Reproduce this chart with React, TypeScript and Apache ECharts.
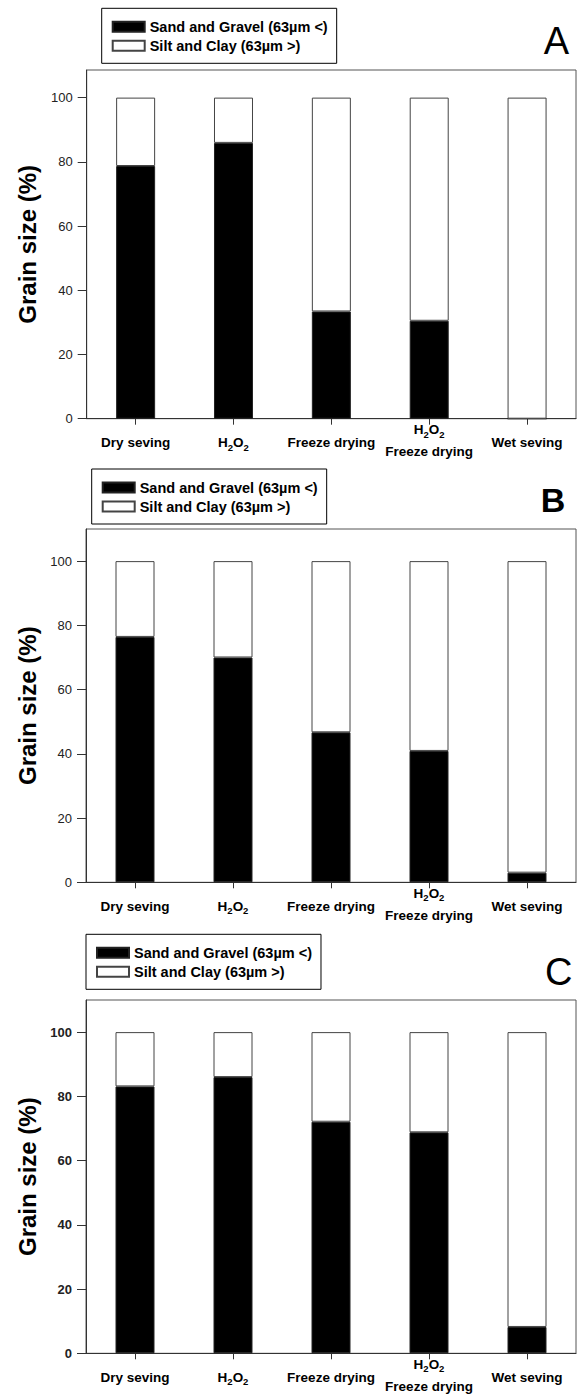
import React, { useEffect, useRef } from 'react';
import * as echarts from 'echarts';

// ---- data ----
const categories = ['Dry seving', 'H2O2', 'Freeze drying', 'H2O2\nFreeze drying', 'Wet seving'];
const seriesNames = ['Sand and Gravel (63µm <)', 'Silt and Clay (63µm >)'];
const sandA = [78.7, 85.9, 33.4, 30.5, 0];
const siltA = [21.3, 14.1, 66.6, 69.5, 100];
const sandB = [76.4, 70.0, 46.7, 40.9, 3.0];
const siltB = [23.6, 30.0, 53.3, 59.1, 97.0];
const sandC = [83.1, 86.0, 72.1, 68.8, 8.2];
const siltC = [16.9, 14.0, 27.9, 31.2, 91.8];
const yTicks = [0, 20, 40, 60, 80, 100];
const yMaxes = [108.6, 110, 110];
const panelLetters = ['A', 'B', 'C'];
const yAxisTitle = 'Grain size (%)';

const sandSets = [sandA, sandB, sandC];
const siltSets = [siltA, siltB, siltC];

// ---- layout ----
const W = 581;
const H = 1394;
const gridRight = 576;
const layouts = [
  { left: 86.7, top: 70, bottom: 418.7, legendLeft: 101.7, legendTop: 8.3, letterX: 556.4, letterY: 40.5, letterWeight: 'normal', letterSize: 38, tickBold: false },
  { left: 86, top: 529, bottom: 882.3, legendLeft: 91.7, legendTop: 469, letterX: 553, letterY: 500, letterWeight: 'bold', letterSize: 34, tickBold: false },
  { left: 86, top: 1000, bottom: 1353.3, legendLeft: 86, legendTop: 934.3, letterX: 558.8, letterY: 971.5, letterWeight: 'normal', letterSize: 38, tickBold: true },
];

const SANS = '"Liberation Sans", Arial, sans-serif';

function fmtLine(line: string, main: string, sub: string): string {
  if (!/\d/.test(line)) return `{${main}|${line}}`;
  return line
    .split(/(\d+)/)
    .filter((p) => p.length > 0)
    .map((p) => (/^\d+$/.test(p) ? `{${sub}|${p}}` : `{${main}|${p}}`))
    .join('');
}

function catFormatter(v: string): string {
  const lines = v.split('\n');
  if (lines.length === 1) return fmtLine(lines[0], 's', 'ss');
  return fmtLine(lines[0], 'a', 'as') + '\n' + fmtLine(lines[1], 'b', 'bs');
}

const baseCat = { fontFamily: SANS, fontWeight: 'bold', fontSize: 13.5, color: '#000' };
const subCat = { fontFamily: SANS, fontWeight: 'bold', fontSize: 9.5, color: '#000' };
const richCat = {
  s: { ...baseCat, lineHeight: 48 },
  ss: { ...subCat, lineHeight: 48, padding: [9, 0, 0, 0] },
  a: { ...baseCat, lineHeight: 22 },
  as: { ...subCat, lineHeight: 22, padding: [9, 0, 0, 0] },
  b: { ...baseCat, lineHeight: 22 },
  bs: { ...subCat, lineHeight: 22, padding: [9, 0, 0, 0] },
};

function buildOption() {
  const grid = layouts.map((l) => ({
    left: l.left,
    top: l.top,
    width: gridRight - l.left,
    height: l.bottom - l.top,
    show: true,
    borderColor: '#555',
    borderWidth: 1,
    backgroundColor: 'transparent',
    outerBoundsMode: 'none',
  }));

  const xAxis = layouts.map((_, i) => ({
    type: 'category',
    gridIndex: i,
    data: categories,
    boundaryGap: true,
    axisLine: { show: true, lineStyle: { color: '#333', width: 1 } },
    axisTick: { show: true, alignWithLabel: true, length: 6, lineStyle: { color: '#333' } },
    axisLabel: {
      interval: 0,
      margin: 0,
      formatter: catFormatter,
      rich: richCat,
      ...baseCat,
    },
    splitLine: { show: false },
  }));

  const yAxis = layouts.map((l, i) => ({
    type: 'value',
    gridIndex: i,
    min: 0,
    max: yMaxes[i],
    interval: 20,
    axisLine: { show: true, lineStyle: { color: '#333', width: 1 } },
    axisTick: { show: true, length: 9, customValues: yTicks, lineStyle: { color: '#333' } },
    axisLabel: {
      customValues: yTicks,
      margin: 14,
      fontSize: 13,
      fontFamily: SANS,
      fontWeight: l.tickBold ? 'bold' : 'normal',
      color: '#222',
    },
    splitLine: { show: false },
    name: yAxisTitle,
    nameLocation: 'middle',
    nameGap: 47,
    nameTextStyle: { fontSize: 24, fontWeight: 'bold', color: '#000', fontFamily: SANS },
  }));

  const series: any[] = [];
  layouts.forEach((_, i) => {
    series.push({
      type: 'bar',
      name: seriesNames[0],
      xAxisIndex: i,
      yAxisIndex: i,
      stack: 'stack' + i,
      data: sandSets[i],
      barWidth: 39,
      itemStyle: { color: '#000', borderColor: '#222', borderWidth: 1 },
    });
    series.push({
      type: 'bar',
      name: seriesNames[1],
      xAxisIndex: i,
      yAxisIndex: i,
      stack: 'stack' + i,
      data: siltSets[i],
      barWidth: 39,
      itemStyle: { color: '#fff', borderColor: '#444', borderWidth: 1 },
    });
  });

  const legend = layouts.map((l) => ({
    left: l.legendLeft,
    top: l.legendTop,
    orient: 'vertical',
    data: seriesNames,
    icon: 'rect',
    itemWidth: 32,
    itemHeight: 10,
    itemGap: 4,
    padding: [11, 9, 10, 10],
    borderColor: '#000',
    borderWidth: 1,
    selectedMode: false,
    textStyle: { fontFamily: SANS, fontWeight: 'bold', fontSize: 14.5, color: '#000' },
  }));

  const graphic = layouts.map((l, i) => ({
    type: 'text',
    x: l.letterX,
    y: l.letterY,
    style: {
      text: panelLetters[i],
      font: `${l.letterWeight} ${l.letterSize}px ${SANS}`,
      align: 'center',
      verticalAlign: 'middle',
      fill: '#000',
    },
  }));

  return {
    animation: false,
    backgroundColor: '#fff',
    grid,
    xAxis,
    yAxis,
    series,
    legend,
    graphic,
  };
}

export default function App() {
  const ref = useRef<HTMLDivElement | null>(null);
  useEffect(() => {
    document.body.style.margin = '0';
    if (!ref.current) return;
    const chart = echarts.init(ref.current, undefined, { renderer: 'svg', width: W, height: H });
    chart.setOption(buildOption() as any);
    return () => {
      chart.dispose();
    };
  }, []);
  return <div ref={ref} style={{ width: W, height: H }} />;
}
